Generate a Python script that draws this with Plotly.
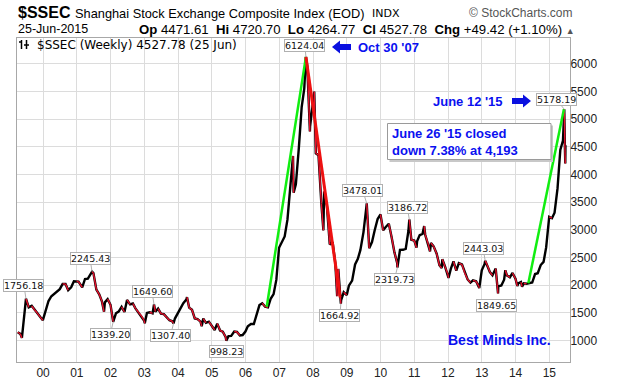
import plotly.graph_objects as go

# ---------------- data ----------------
dates = [
    "1999-04-02", "1999-04-30", "1999-05-17", "1999-05-28", "1999-06-18", "1999-06-30",
    "1999-07-30", "1999-08-31", "1999-09-30", "1999-10-29", "1999-11-30", "1999-12-30",
    "2000-01-28", "2000-02-29", "2000-03-31", "2000-04-28", "2000-05-31", "2000-06-30",
    "2000-07-31", "2000-08-31", "2000-09-29", "2000-10-31", "2000-11-30", "2000-12-29",
    "2001-01-19", "2001-02-28", "2001-03-30", "2001-04-30", "2001-05-31", "2001-06-14",
    "2001-06-29", "2001-07-31", "2001-08-31", "2001-09-28", "2001-10-22", "2001-10-31",
    "2001-11-30", "2001-12-31",
    "2002-01-29", "2002-02-28", "2002-03-29", "2002-04-30", "2002-05-31", "2002-06-28",
    "2002-07-31", "2002-08-30", "2002-09-27", "2002-10-31", "2002-11-29", "2002-12-31",
    "2003-01-06", "2003-01-29", "2003-02-28", "2003-03-31", "2003-04-16", "2003-04-30",
    "2003-05-30", "2003-06-30", "2003-07-31", "2003-08-29", "2003-09-30", "2003-10-31",
    "2003-11-13", "2003-11-28", "2003-12-31",
    "2004-01-30", "2004-02-27", "2004-03-31", "2004-04-07", "2004-04-30", "2004-05-31",
    "2004-06-30", "2004-07-30", "2004-08-31", "2004-09-13", "2004-09-30", "2004-10-29",
    "2004-11-30", "2004-12-31",
    "2005-01-31", "2005-02-28", "2005-03-31", "2005-04-29", "2005-05-31", "2005-06-06",
    "2005-06-30", "2005-07-29", "2005-08-31", "2005-09-30", "2005-10-31", "2005-11-30",
    "2005-12-30",
    "2006-01-25", "2006-02-28", "2006-03-31", "2006-04-28", "2006-05-31", "2006-06-30",
    "2006-07-31", "2006-08-31", "2006-09-29", "2006-10-31", "2006-11-30", "2006-12-29",
    "2007-01-31", "2007-02-28", "2007-03-30", "2007-04-30", "2007-05-29", "2007-06-05",
    "2007-06-29", "2007-07-31", "2007-08-31", "2007-09-28", "2007-10-16", "2007-10-31",
    "2007-11-28", "2007-11-30", "2007-12-28",
    "2008-01-14", "2008-01-31", "2008-02-29", "2008-03-31", "2008-04-22", "2008-04-30",
    "2008-05-30", "2008-06-30", "2008-07-31", "2008-08-29", "2008-09-18", "2008-09-30",
    "2008-10-28", "2008-10-31", "2008-11-28", "2008-12-31",
    "2009-01-23", "2009-02-27", "2009-03-31", "2009-04-30", "2009-05-27", "2009-06-30",
    "2009-07-31", "2009-08-04", "2009-08-31", "2009-09-30", "2009-10-30", "2009-11-30",
    "2009-12-31",
    "2010-01-29", "2010-02-26", "2010-03-31", "2010-04-30", "2010-05-31", "2010-06-30",
    "2010-07-02", "2010-07-30", "2010-08-31", "2010-09-30", "2010-10-29", "2010-11-08",
    "2010-11-30", "2010-12-31",
    "2011-01-25", "2011-01-31", "2011-02-28", "2011-03-31", "2011-04-18", "2011-04-29",
    "2011-05-31", "2011-06-20", "2011-06-30", "2011-07-29", "2011-08-31", "2011-09-30",
    "2011-10-24", "2011-10-31", "2011-11-30", "2011-12-30",
    "2012-01-06", "2012-01-31", "2012-02-29", "2012-03-30", "2012-04-27", "2012-05-31",
    "2012-06-29", "2012-07-31", "2012-08-31", "2012-09-27", "2012-10-31", "2012-11-30",
    "2012-12-04", "2012-12-31",
    "2013-01-31", "2013-02-06", "2013-02-28", "2013-03-29", "2013-04-26", "2013-05-31",
    "2013-06-25", "2013-06-28", "2013-07-31", "2013-08-30", "2013-09-12", "2013-09-30",
    "2013-10-31", "2013-11-29", "2013-12-31",
    "2014-01-20", "2014-01-30", "2014-02-28", "2014-03-12", "2014-03-31", "2014-04-30",
    "2014-05-30", "2014-06-30", "2014-07-31", "2014-08-29", "2014-09-30", "2014-10-31",
    "2014-11-28", "2014-12-31",
    "2015-01-30", "2015-02-27", "2015-03-31", "2015-04-30", "2015-05-29", "2015-06-12",
    "2015-06-19", "2015-06-23", "2015-06-25",
]
closes = [
    1150, 1120, 1047, 1280, 1560, 1756,
    1601, 1627, 1556, 1501, 1428, 1367,
    1535, 1714, 1800, 1836, 1894, 1928,
    2023, 2022, 1911, 1961, 2071, 2073,
    2065, 1960, 2112, 2119, 2214, 2245,
    2218, 1920, 1834, 1713, 1520, 1690,
    1747, 1646,
    1339, 1492, 1524, 1608, 1516, 1733,
    1652, 1669, 1581, 1507, 1448, 1358,
    1311, 1499, 1511, 1490, 1650, 1521,
    1577, 1487, 1476, 1421, 1367, 1348,
    1307, 1397, 1497,
    1590, 1675, 1742, 1783, 1595, 1555,
    1399, 1386, 1342, 1260, 1396, 1320,
    1341, 1266,
    1191, 1306, 1181, 1159, 1060, 998,
    1080, 1083, 1162, 1155, 1092, 1099,
    1161,
    1258, 1299, 1299, 1440, 1641, 1672,
    1612, 1601, 1753, 1838, 2099, 2675,
    2786, 2881, 3184, 3841, 4335, 3670,
    3821, 4471, 5219, 5552, 6124, 5955,
    4778, 4871, 5262,
    5497, 4383, 4349, 3473, 2990, 3693,
    3433, 2736, 2776, 2397, 1802, 2293,
    1665, 1729, 1872, 1821,
    1991, 2082, 2374, 2477, 2633, 2959,
    3412, 3478, 2667, 2779, 2996, 3195,
    3277,
    2990, 3051, 3110, 2871, 2592, 2398,
    2320, 2638, 2639, 2656, 2979, 3187,
    2820, 2808,
    2677, 2791, 2905, 2928, 3067, 2911,
    2743, 2611, 2762, 2701, 2568, 2359,
    2308, 2469, 2333, 2199,
    2132, 2293, 2429, 2263, 2397, 2373,
    2225, 2103, 2047, 2086, 2069, 1980,
    1949, 2269,
    2385, 2443, 2366, 2237, 2178, 2301,
    1850, 1979, 1994, 2098, 2270, 2175,
    2142, 2220, 2116,
    1985, 2033, 2056, 1974, 2033, 2026,
    2039, 2048, 2202, 2217, 2364, 2420,
    2683, 3235,
    3210, 3310, 3748, 4442, 4612, 5178,
    4478, 4200, 4528,
]

year_ticks = [f"{y}-01-01" for y in range(2000, 2016)]
year_labels = [f"{y % 100:02d}" for y in range(2000, 2016)]
price_ticks = list(range(1000, 6001, 500))

label_dates = ["1999-06-30", "2001-06-14", "2002-01-29", "2003-04-16", "2003-11-13",
               "2005-06-06", "2007-10-16", "2008-10-28", "2009-08-04", "2010-07-02",
               "2010-11-08", "2013-02-06", "2013-06-25", "2015-06-12"]
label_values = [1756.18, 2245.43, 1339.20, 1649.60, 1307.40,
                998.23, 6124.04, 1664.92, 3478.01, 2319.73,
                3186.72, 2443.03, 1849.65, 5178.19]
label_dx = [-2, -2, -3, -2, -3, 0, -1, -1, -4, -3, -2, -2, -2, -8]
label_dy = [-13, -13, 13, -13, 12, 11, -11, 12, -13, 12, -12, -12, 12, -10]

green1_dates = ["2006-08-18", "2007-10-16"]
green1_values = [1611, 6124]
red_dates = ["2007-10-16", "2008-10-20"]
red_values = [6124, 1780]
green2_dates = ["2014-05-19", "2015-06-08"]
green2_values = [2034, 5178]

# ---------------- geometry helpers ----------------
W_FIG, H_FIG = 622, 382
L, T, R, B = 17, 38, 52, 20
PW, PH = W_FIG - L - R, H_FIG - T - B


def px(x):
    return (x - L) / PW


def py(y):
    return (T + PH - y) / PH


BLUE = "#0a10f0"
fig = go.Figure()

# black price line
fig.add_trace(go.Scatter(x=dates, y=closes, mode="lines",
                         line=dict(color="#000000", width=2.4),
                         hoverinfo="skip", showlegend=False))
# red segments for declines
rx, ry = [], []
for i in range(1, len(closes)):
    if closes[i] < closes[i - 1]:
        rx += [dates[i - 1], dates[i], None]
        ry += [closes[i - 1], closes[i], None]
fig.add_trace(go.Scatter(x=rx, y=ry, mode="lines",
                         line=dict(color="#e8112d", width=1.4),
                         hoverinfo="skip", showlegend=False))

# trend lines
fig.add_trace(go.Scatter(x=green1_dates, y=green1_values, mode="lines",
                         line=dict(color="#11ee11", width=2.5), showlegend=False, hoverinfo="skip"))
fig.add_trace(go.Scatter(x=red_dates, y=red_values, mode="lines",
                         line=dict(color="#ee1111", width=3), showlegend=False, hoverinfo="skip"))
fig.add_trace(go.Scatter(x=green2_dates, y=green2_values, mode="lines",
                         line=dict(color="#11ee11", width=2.5), showlegend=False, hoverinfo="skip"))

annotations = []
# value labels
for d, v, dx, dy in zip(label_dates, label_values, label_dx, label_dy):
    annotations.append(dict(
        x=d, y=v, xref="x", yref="y", text=f"{v:.2f}",
        showarrow=True, arrowhead=0, arrowwidth=1, arrowcolor="#b0b0b0",
        ax=dx, ay=dy, standoff=0,
        font=dict(family="DejaVu Sans", size=9.5, color="#111"),
        bgcolor="#ffffff", bordercolor="#b0b0b0", borderwidth=1, borderpad=0,
    ))


def text(x, y, s, size, color="#000", family="Liberation Sans, Arial", anchor="left", bold=False):
    if bold:
        s = f"<b>{s}</b>"
    annotations.append(dict(x=px(x), y=py(y), xref="paper", yref="paper", text=s,
                            showarrow=False, xanchor=anchor, yanchor="middle",
                            font=dict(family=family, size=size, color=color)))


# header
text(16, 12, "$SSEC", 16, bold=True)
text(73, 13, "Shanghai Stock Exchange Composite Index (EOD)", 12.8)
text(370, 13, "INDX", 11, family="DejaVu Sans")
text(575, 13, "© StockCharts.com", 12, color="#555", anchor="right")
text(16, 29, "25-Jun-2015", 12.5)
text(577, 29, "<b>Op</b> 4471.61  <b>Hi</b> 4720.70  <b>Lo</b> 4264.77  <b>Cl</b> 4527.78  "
     "<b>Chg</b> +49.42 (+1.10%) <span style='font-size:9px;color:#555'>▲</span>", 13.2, anchor="right")
# legend line inside plot
text(35, 45, "$SSEC (Weekly) 4527.78 (25 Jun)", 12, family="DejaVu Sans")

# blue notes
text(356, 47, "Oct 30 '07", 13, color=BLUE, bold=True)
text(431, 101, "June 12 '15", 13, color=BLUE, bold=True)
annotations.append(dict(x=px(390), y=py(141.5), xref="paper", yref="paper",
                        text="<b>June 26 '15 closed<br>down 7.38% at 4,193</b>",
                        showarrow=False, xanchor="left", yanchor="middle", align="left",
                        font=dict(family="Liberation Sans, Arial", size=13, color=BLUE)))
text(553, 340, "Best Minds Inc.", 14, color=BLUE, anchor="right", bold=True)


def arrow_path(tip, tail, yc, head=8, hh=6.5, sh=3):
    d = 1 if tail > tip else -1
    pts = [(tip, yc), (tip + d * head, yc - hh), (tip + d * head, yc - sh), (tail, yc - sh),
           (tail, yc + sh), (tip + d * head, yc + sh), (tip + d * head, yc + hh)]
    return "M " + " L ".join(f"{px(a):.5f},{py(b):.5f}" for a, b in pts) + " Z"


shapes = [
    dict(type="path", xref="paper", yref="paper", path=arrow_path(332, 351, 47),
         fillcolor="#0a10e0", line=dict(width=0), layer="above"),
    dict(type="path", xref="paper", yref="paper", path=arrow_path(531, 512, 101),
         fillcolor="#0a10e0", line=dict(width=0), layer="above"),
    # shadow + box of the note
    dict(type="rect", xref="paper", yref="paper", x0=px(389.5), x1=px(553), y0=py(162), y1=py(125.5),
         fillcolor="#c8c8c8", line=dict(width=0), layer="above"),
    dict(type="rect", xref="paper", yref="paper", x0=px(387.5), x1=px(551), y0=py(159.5), y1=py(123.5),
         fillcolor="#ffffff", line=dict(color="#9a9a9a", width=1), layer="above"),
    # legend icon
    dict(type="line", xref="paper", yref="paper", x0=px(21.5), x1=px(21.5), y0=py(40), y1=py(49),
         line=dict(color="#000", width=1.5), layer="above"),
    dict(type="line", xref="paper", yref="paper", x0=px(19), x1=px(21.5), y0=py(42), y1=py(42),
         line=dict(color="#000", width=1.5), layer="above"),
    dict(type="line", xref="paper", yref="paper", x0=px(26.5), x1=px(26.5), y0=py(40), y1=py(49),
         line=dict(color="#000", width=1.5), layer="above"),
    dict(type="line", xref="paper", yref="paper", x0=px(24), x1=px(29), y0=py(45), y1=py(45),
         line=dict(color="#000", width=1.5), layer="above"),
]

fig.update_layout(
    width=W_FIG, height=H_FIG, autosize=False,
    margin=dict(l=L, r=R, t=T, b=B, pad=0),
    paper_bgcolor="#ffffff", plot_bgcolor="#ffffff",
    showlegend=False,
    annotations=annotations, shapes=shapes,
    xaxis=dict(type="date", range=["1999-03-25", "2015-08-13"],
               tickvals=year_ticks, ticktext=year_labels, automargin=False,
               showgrid=True, gridcolor="#dcdcdc", gridwidth=1,
               showline=True, linecolor="#a8a8a8", linewidth=1, mirror=True,
               ticks="", zeroline=False,
               tickfont=dict(family="Liberation Sans, Arial", size=12, color="#222")),
    yaxis=dict(range=[612, 6466], side="right", tickvals=price_ticks, automargin=False,
               ticklabelstandoff=-3,
               showgrid=True, gridcolor="#dcdcdc", gridwidth=1,
               showline=True, linecolor="#a8a8a8", linewidth=1, mirror=True,
               ticks="", zeroline=False,
               tickfont=dict(family="Liberation Sans, Arial", size=12, color="#222")),
)

fig.write_html("out.html", config={"displayModeBar": False},
               post_script="document.body.style.margin='0px';document.body.style.overflow='hidden';")
